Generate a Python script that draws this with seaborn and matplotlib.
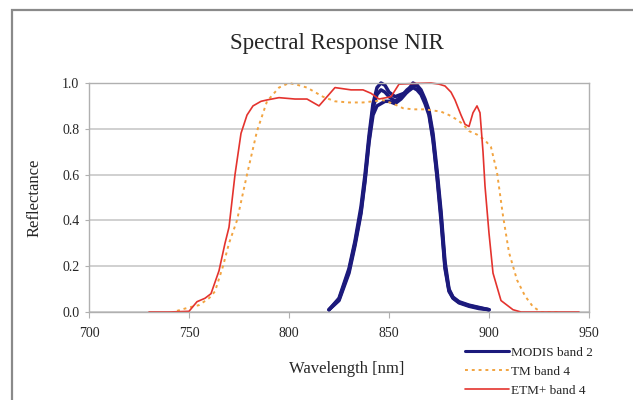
import seaborn as sns
import matplotlib.pyplot as plt
import matplotlib.patches as mpatches
from matplotlib.lines import Line2D
import pandas as pd

# values
modis_wl = [820, 825, 830, 833, 836, 838, 840, 842, 844, 846, 848, 850, 853, 856,
            859, 862, 864, 866, 868, 870, 872, 874, 876, 878, 880, 882, 885, 890, 895, 900]
modis_det_a = [0.01, 0.06, 0.19, 0.31, 0.46, 0.60, 0.77, 0.91, 0.98, 1.00, 0.99, 0.96, 0.94, 0.95,
               0.96, 0.98, 0.97, 0.95, 0.91, 0.86, 0.75, 0.59, 0.40, 0.19, 0.09, 0.06, 0.04, 0.025, 0.015, 0.01]
modis_det_b = [0.01, 0.05, 0.17, 0.29, 0.43, 0.57, 0.74, 0.86, 0.90, 0.91, 0.92, 0.92, 0.91, 0.93,
               0.96, 1.00, 0.99, 0.97, 0.93, 0.88, 0.78, 0.62, 0.44, 0.22, 0.10, 0.065, 0.045, 0.03, 0.02, 0.01]
modis_det_c = [0.01, 0.055, 0.18, 0.30, 0.44, 0.58, 0.75, 0.89, 0.95, 0.97, 0.96, 0.94, 0.92, 0.94,
               0.97, 0.99, 0.99, 0.96, 0.92, 0.87, 0.76, 0.60, 0.42, 0.20, 0.095, 0.062, 0.042, 0.028, 0.018, 0.01]

tm_wl = [744, 750, 755, 760, 763, 767, 770, 774, 779, 784, 789, 795, 800, 805, 809, 813, 817,
         823, 830, 837, 842, 847, 852, 857, 862, 868, 872, 876, 880, 884, 887, 890, 894, 898,
         901, 904, 907, 910, 914, 918, 922, 926, 935]
tm_refl = [0.005, 0.02, 0.03, 0.06, 0.09, 0.2, 0.3, 0.4, 0.6, 0.79, 0.92, 0.98, 1.0, 0.99, 0.98,
           0.96, 0.94, 0.92, 0.915, 0.915, 0.92, 0.925, 0.91, 0.89, 0.885, 0.885, 0.88, 0.875,
           0.86, 0.84, 0.82, 0.79, 0.775, 0.75, 0.72, 0.61, 0.42, 0.26, 0.14, 0.07, 0.023, 0.0, 0.0]

etm_wl = [730, 740, 750, 754, 758, 761, 765, 768, 770, 773, 776, 779, 782, 786, 789, 795, 803,
          809, 815, 819, 823, 831, 837, 841, 845, 851, 855, 863, 871, 875, 878, 881, 883, 886,
          888, 890, 892, 894, 895.5, 897, 898, 900, 902, 906, 912, 916, 930, 945]
etm_refl = [0.0, 0.0, 0.003, 0.045, 0.06, 0.08, 0.18, 0.3, 0.37, 0.6, 0.78, 0.86, 0.9, 0.92, 0.926,
            0.936, 0.93, 0.93, 0.90, 0.94, 0.98, 0.97, 0.97, 0.955, 0.93, 0.94, 0.995, 0.998, 1.0,
            0.995, 0.987, 0.96, 0.926, 0.86, 0.82, 0.81, 0.87, 0.9, 0.87, 0.7, 0.55, 0.344, 0.17,
            0.05, 0.01, 0.0, 0.0, 0.0]

navy = '#1c1a7c'
orange = '#f2a440'
red = '#e4332e'

sns.set_style('white')
plt.rcParams['font.family'] = ['Liberation Serif', 'DejaVu Serif']

fig = plt.figure(figsize=(6.33, 4.0), dpi=100)
ax = fig.add_axes([89 / 633, 1 - 312 / 400, 500 / 633, 229 / 400])

modis = pd.DataFrame({'wl': modis_wl * 3,
                      'refl': modis_det_a + modis_det_b + modis_det_c,
                      'det': ['a'] * len(modis_wl) + ['b'] * len(modis_wl) + ['c'] * len(modis_wl)})
sns.lineplot(data=modis, x='wl', y='refl', units='det', estimator=None, color=navy,
             lw=2.5, ax=ax, legend=False, clip_on=False)
sns.lineplot(x=tm_wl, y=tm_refl, color=orange, lw=1.4, linestyle=(0, (1.5, 2)), ax=ax, clip_on=False)
sns.lineplot(x=etm_wl, y=etm_refl, color=red, lw=1.2, ax=ax, clip_on=False)

ax.set_xlim(700, 950)
ax.set_ylim(0, 1.0)
ax.set_xticks([700, 750, 800, 850, 900, 950])
ax.set_yticks([0.0, 0.2, 0.4, 0.6, 0.8, 1.0])
ax.set_yticklabels(['0.0', '0.2', '0.4', '0.6', '0.8', '1.0'])
ax.yaxis.grid(True, color='#c8c8c8', lw=1.2)
ax.set_axisbelow(True)
for s in ax.spines.values():
    s.set_color('#b0b0b0')
    s.set_linewidth(1.0)
ax.tick_params(axis='x', direction='out', length=4, color='#b0b0b0', labelsize=10, pad=7, bottom=True)
ax.tick_params(axis='y', direction='out', length=3, color='#b0b0b0', labelsize=10, pad=4, left=True)

ax.set_xlabel('Wavelength [nm]', fontsize=12)
ax.xaxis.set_label_coords(0.516, -0.215)
ax.set_ylabel('Reflectance', fontsize=12, labelpad=14)
fig.text(337 / 633, 1 - 43 / 400, 'Spectral Response NIR', ha='center', va='center', fontsize=16.5)

handles = [Line2D([], [], color=navy, lw=2.2),
           Line2D([], [], color=orange, lw=1.4, linestyle=(0, (1.5, 2))),
           Line2D([], [], color=red, lw=1.2)]
fig.legend(handles, ['MODIS band 2', 'TM band 4', 'ETM+ band 4'], loc='upper left',
           bbox_to_anchor=(458 / 633, 1 - 340 / 400), frameon=False, fontsize=9.5,
           handlelength=3.4, handletextpad=0.15, labelspacing=0.5, borderpad=0)

fig.patches.append(mpatches.Rectangle((12 / 633, -0.1), 1.2, 1.075, transform=fig.transFigure,
                                      fill=False, edgecolor='#8a8a8a', lw=1.6))

fig.savefig('out.png', dpi=100)
